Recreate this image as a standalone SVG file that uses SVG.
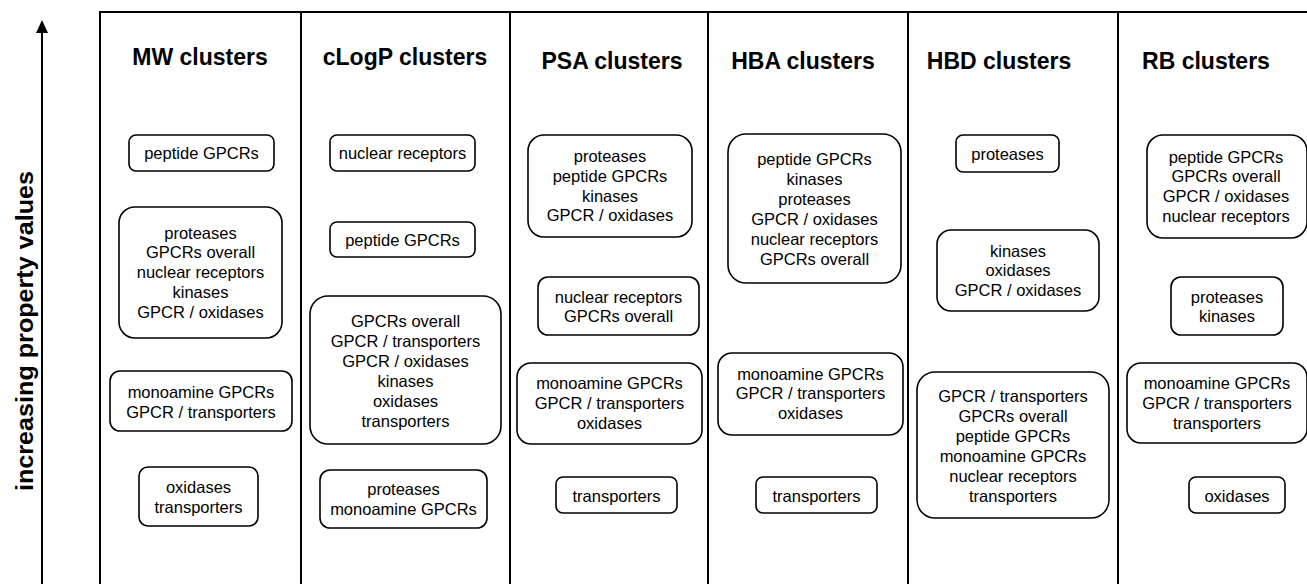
<svg xmlns="http://www.w3.org/2000/svg" width="1307" height="584" viewBox="0 0 1307 584">
  <style>
    .frame { stroke: #000; stroke-width: 2; fill: none; }
    .box rect { fill: #fff; stroke: #000; stroke-width: 1.6; }
    .box text { font-family: "Liberation Sans", Arial, sans-serif; font-size: 16.5px; fill: #000; text-anchor: middle; }
    .head { font-family: "Liberation Sans", Arial, sans-serif; font-size: 23px; font-weight: bold; fill: #000; text-anchor: middle; }
    .axis { font-family: "Liberation Sans", Arial, sans-serif; font-size: 23px; font-weight: bold; fill: #000; text-anchor: middle; }
  </style>
  <rect width="1307" height="584" fill="#fff"/>

  <!-- axis: arrow and label -->
  <g id="axis">
    <line x1="42" y1="584" x2="42" y2="27" stroke="#000" stroke-width="2"/>
    <polygon points="42,20 36,33 48,33" fill="#000"/>
    <text class="axis" transform="translate(33,331) rotate(-90)" textLength="320" lengthAdjust="spacingAndGlyphs">increasing property values</text>
  </g>

  <!-- column frame -->
  <g id="columns" class="frame">
    <line x1="100" y1="12" x2="1307" y2="12"/>
    <line x1="100" y1="11" x2="100" y2="584"/>
    <line x1="301" y1="12" x2="301" y2="584"/>
    <line x1="510" y1="12" x2="510" y2="584"/>
    <line x1="708" y1="12" x2="708" y2="584"/>
    <line x1="908" y1="12" x2="908" y2="584"/>
    <line x1="1118" y1="12" x2="1118" y2="584"/>
  </g>

  <!-- column headers -->
  <g id="headers">
    <text class="head" x="200" y="65">MW clusters</text>
    <text class="head" x="405" y="65">cLogP clusters</text>
    <text class="head" x="612" y="69">PSA clusters</text>
    <text class="head" x="803" y="69">HBA clusters</text>
    <text class="head" x="999" y="69">HBD clusters</text>
    <text class="head" x="1206" y="69">RB clusters</text>
  </g>

  <!-- MW column -->
  <g id="mw1" class="box">
    <rect x="129" y="135" width="145" height="36" rx="7"/>
    <text x="201.5" y="159">peptide GPCRs</text>
  </g>
  <g id="mw2" class="box">
    <rect x="119" y="207" width="163" height="131" rx="16"/>
    <text y="238.5"><tspan x="200.5">proteases</tspan><tspan x="200.5" dy="19.8">GPCRs overall</tspan><tspan x="200.5" dy="19.8">nuclear receptors</tspan><tspan x="200.5" dy="19.8">kinases</tspan><tspan x="200.5" dy="19.8">GPCR / oxidases</tspan></text>
  </g>
  <g id="mw3" class="box">
    <rect x="110" y="371" width="182" height="60" rx="10"/>
    <text y="398"><tspan x="201">monoamine GPCRs</tspan><tspan x="201" dy="19.5">GPCR / transporters</tspan></text>
  </g>
  <g id="mw4" class="box">
    <rect x="139" y="467" width="119" height="59" rx="9"/>
    <text y="493"><tspan x="198.5">oxidases</tspan><tspan x="198.5" dy="19.5">transporters</tspan></text>
  </g>

  <!-- cLogP column -->
  <g id="clogp1" class="box">
    <rect x="330" y="135" width="145" height="36" rx="7"/>
    <text x="402.5" y="159">nuclear receptors</text>
  </g>
  <g id="clogp2" class="box">
    <rect x="330" y="222" width="145" height="35" rx="7"/>
    <text x="402.5" y="245.5">peptide GPCRs</text>
  </g>
  <g id="clogp3" class="box">
    <rect x="310" y="296" width="191" height="148" rx="18"/>
    <text y="326.5"><tspan x="405.5">GPCRs overall</tspan><tspan x="405.5" dy="20">GPCR / transporters</tspan><tspan x="405.5" dy="20">GPCR / oxidases</tspan><tspan x="405.5" dy="20">kinases</tspan><tspan x="405.5" dy="20">oxidases</tspan><tspan x="405.5" dy="20">transporters</tspan></text>
  </g>
  <g id="clogp4" class="box">
    <rect x="320" y="470" width="167" height="58" rx="10"/>
    <text y="495"><tspan x="403.5">proteases</tspan><tspan x="403.5" dy="19.5">monoamine GPCRs</tspan></text>
  </g>

  <!-- PSA column -->
  <g id="psa1" class="box">
    <rect x="528" y="135" width="164" height="102" rx="16"/>
    <text y="162"><tspan x="610">proteases</tspan><tspan x="610" dy="19.8">peptide GPCRs</tspan><tspan x="610" dy="19.8">kinases</tspan><tspan x="610" dy="19.8">GPCR / oxidases</tspan></text>
  </g>
  <g id="psa2" class="box">
    <rect x="538" y="277" width="161" height="58" rx="10"/>
    <text y="302.5"><tspan x="618.5">nuclear receptors</tspan><tspan x="618.5" dy="19.5">GPCRs overall</tspan></text>
  </g>
  <g id="psa3" class="box">
    <rect x="517" y="363" width="185" height="81" rx="14"/>
    <text y="389"><tspan x="609.5">monoamine GPCRs</tspan><tspan x="609.5" dy="19.8">GPCR / transporters</tspan><tspan x="609.5" dy="19.8">oxidases</tspan></text>
  </g>
  <g id="psa4" class="box">
    <rect x="556" y="477" width="121" height="36" rx="7"/>
    <text x="616.5" y="501.5">transporters</text>
  </g>

  <!-- HBA column -->
  <g id="hba1" class="box">
    <rect x="728" y="134" width="173" height="149" rx="18"/>
    <text y="165"><tspan x="814.5">peptide GPCRs</tspan><tspan x="814.5" dy="20">kinases</tspan><tspan x="814.5" dy="20">proteases</tspan><tspan x="814.5" dy="20">GPCR / oxidases</tspan><tspan x="814.5" dy="20">nuclear receptors</tspan><tspan x="814.5" dy="20">GPCRs overall</tspan></text>
  </g>
  <g id="hba2" class="box">
    <rect x="718" y="353" width="185" height="82" rx="14"/>
    <text y="380"><tspan x="810.5">monoamine GPCRs</tspan><tspan x="810.5" dy="19.3">GPCR / transporters</tspan><tspan x="810.5" dy="19.3">oxidases</tspan></text>
  </g>
  <g id="hba3" class="box">
    <rect x="756" y="477" width="121" height="36" rx="7"/>
    <text x="816.5" y="501.5">transporters</text>
  </g>

  <!-- HBD column -->
  <g id="hbd1" class="box">
    <rect x="956" y="135" width="103" height="37" rx="7"/>
    <text x="1007.5" y="159.5">proteases</text>
  </g>
  <g id="hbd2" class="box">
    <rect x="937" y="230" width="162" height="81" rx="14"/>
    <text y="256.7"><tspan x="1018">kinases</tspan><tspan x="1018" dy="19.7">oxidases</tspan><tspan x="1018" dy="19.7">GPCR / oxidases</tspan></text>
  </g>
  <g id="hbd3" class="box">
    <rect x="917" y="372" width="192" height="146" rx="18"/>
    <text y="401.7"><tspan x="1013">GPCR / transporters</tspan><tspan x="1013" dy="20">GPCRs overall</tspan><tspan x="1013" dy="20">peptide GPCRs</tspan><tspan x="1013" dy="20">monoamine GPCRs</tspan><tspan x="1013" dy="20">nuclear receptors</tspan><tspan x="1013" dy="20">transporters</tspan></text>
  </g>

  <!-- RB column -->
  <g id="rb1" class="box">
    <rect x="1147" y="135" width="160" height="103" rx="16"/>
    <text y="162.5"><tspan x="1226">peptide GPCRs</tspan><tspan x="1226" dy="19.8">GPCRs overall</tspan><tspan x="1226" dy="19.8">GPCR / oxidases</tspan><tspan x="1226" dy="19.8">nuclear receptors</tspan></text>
  </g>
  <g id="rb2" class="box">
    <rect x="1171" y="277" width="112" height="58" rx="10"/>
    <text y="302.5"><tspan x="1227">proteases</tspan><tspan x="1227" dy="19.5">kinases</tspan></text>
  </g>
  <g id="rb3" class="box">
    <rect x="1127" y="363" width="180" height="80" rx="14"/>
    <text y="389"><tspan x="1217">monoamine GPCRs</tspan><tspan x="1217" dy="19.8">GPCR / transporters</tspan><tspan x="1217" dy="19.8">transporters</tspan></text>
  </g>
  <g id="rb4" class="box">
    <rect x="1189" y="477" width="96" height="36" rx="7"/>
    <text x="1237" y="501.5">oxidases</text>
  </g>
</svg>
